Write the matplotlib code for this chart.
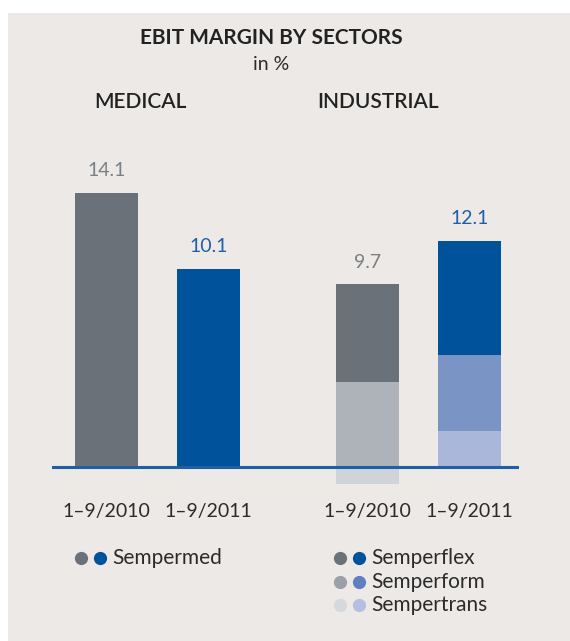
import matplotlib
matplotlib.use("Agg")
import matplotlib.pyplot as plt
from matplotlib.patches import Rectangle
from matplotlib.transforms import blended_transform_factory

plt.rcParams['font.family'] = ['Lato', 'DejaVu Sans']

# data (EBIT margin in %)
periods = ["1–9/2010", "1–9/2011"]
medical_values = [14.1, 10.2]          # Sempermed bar heights
medical_labels = ["14.1", "10.1"]
industrial_segments = ["Sempertrans", "Semperform", "Semperflex"]
industrial_2010 = [-0.9, 4.4, 5.0]
industrial_2011 = [1.85, 3.9, 5.9]
industrial_labels = ["9.7", "12.1"]

# colours
bg = "#EDE9E6"
gray_dark = "#6B7178"
blue_dark = "#00529B"
c2010 = ["#CFD4D8", "#ADB3B8", gray_dark]
c2011 = ["#AAB7DB", "#7B94C6", blue_dark]
leg2010 = ["#D5D8DC", "#9AA0A5", gray_dark]
leg2011 = ["#B5C0E0", "#5F7FBE", blue_dark]
lbl_gray = "#7A7F84"
lbl_blue = "#1F5FA8"
txt = "#2B2B2B"

W, H = 570, 641
fig = plt.figure(figsize=(W / 100, H / 100), dpi=100)
fig.patch.set_facecolor("white")
fig.patches.append(Rectangle((8 / W, 0), 1 - 8 / W, 1 - 13 / H,
                             transform=fig.transFigure, facecolor=bg,
                             edgecolor="none", zorder=-5))

# axes geometry in pixels
base_px = 467
px_per_unit = 19.43
bar_step = 102
ax_left, ax_right, ax_top, ax_bot = 52, 519, 150, 500
ax = fig.add_axes([ax_left / W, 1 - ax_bot / H, (ax_right - ax_left) / W,
                   (ax_bot - ax_top) / H], zorder=2)
ax.set_facecolor("none")
ax.set_xlim((ax_left - 106.5) / bar_step, (ax_right - 106.5) / bar_step)
ax.set_ylim(-(ax_bot - base_px) / px_per_unit, (base_px - ax_top) / px_per_unit)
ax.axis("off")

xpos = [0, 1, 2.56, 3.56]
width = 63 / bar_step

# medical bars
med_cols = [gray_dark, blue_dark]
for i, v in enumerate(medical_values):
    ax.bar(xpos[i], v, width=width, color=med_cols[i], zorder=2)

# industrial stacked bars
tops = list(medical_values)
for j, (vals, cols) in enumerate([(industrial_2010, c2010), (industrial_2011, c2011)]):
    pos_b, neg_b = 0.0, 0.0
    for v, c in zip(vals, cols):
        if v >= 0:
            ax.bar(xpos[2 + j], v, bottom=pos_b, width=width, color=c, zorder=2)
            pos_b += v
        else:
            ax.bar(xpos[2 + j], v, bottom=neg_b, width=width, color=c, zorder=2)
            neg_b += v
    tops.append(pos_b)

ax.axhline(0, color="#1E5FA6", lw=2.2, zorder=3)

# value labels
labels = medical_labels + industrial_labels
lcols = [lbl_gray, lbl_blue, lbl_gray, lbl_blue]
for x, t, s, c in zip(xpos, tops, labels, lcols):
    ax.annotate(s, (x, t), xytext=(0, 16), textcoords="offset points",
                ha="center", va="center", fontsize=14, color=c)

# period labels under bars
tr = blended_transform_factory(ax.transData, fig.transFigure)
for x, p in zip(xpos, periods + periods):
    ax.text(x, 1 - 511 / H, p, transform=tr, ha="center", va="center",
            fontsize=14, color=txt)

# titles
fig.text(271 / W, 1 - 38 / H, "EBIT MARGIN BY SECTORS", ha="center", va="center",
         fontsize=15, fontweight="bold", color="#222222")
fig.text(271 / W, 1 - 64 / H, "in %", ha="center", va="center",
         fontsize=14, color=txt)
fig.text(140 / W, 1 - 102 / H, "MEDICAL", ha="center", va="center",
         fontsize=15, fontweight="semibold", color="#222222")
fig.text(378 / W, 1 - 102 / H, "INDUSTRIAL", ha="center", va="center",
         fontsize=15, fontweight="semibold", color="#222222")

# legends
def legend_row(x0, y, c1, c2, label):
    fig.add_artist(plt.Line2D([x0 / W], [1 - y / H], marker="o", ms=9.5,
                              color=c1, mec="none", ls="none"))
    fig.add_artist(plt.Line2D([(x0 + 19) / W], [1 - y / H], marker="o", ms=9.5,
                              color=c2, mec="none", ls="none"))
    fig.text((x0 + 31) / W, 1 - y / H, label, ha="left", va="center",
             fontsize=15, color=txt)

legend_row(81, 558, gray_dark, blue_dark, "Sempermed")
for k, name in enumerate(reversed(industrial_segments)):
    idx = 2 - k
    legend_row(340, 558 + 23.5 * k, leg2010[idx], leg2011[idx], name)

fig.savefig("out.png", dpi=100, facecolor=fig.get_facecolor())
